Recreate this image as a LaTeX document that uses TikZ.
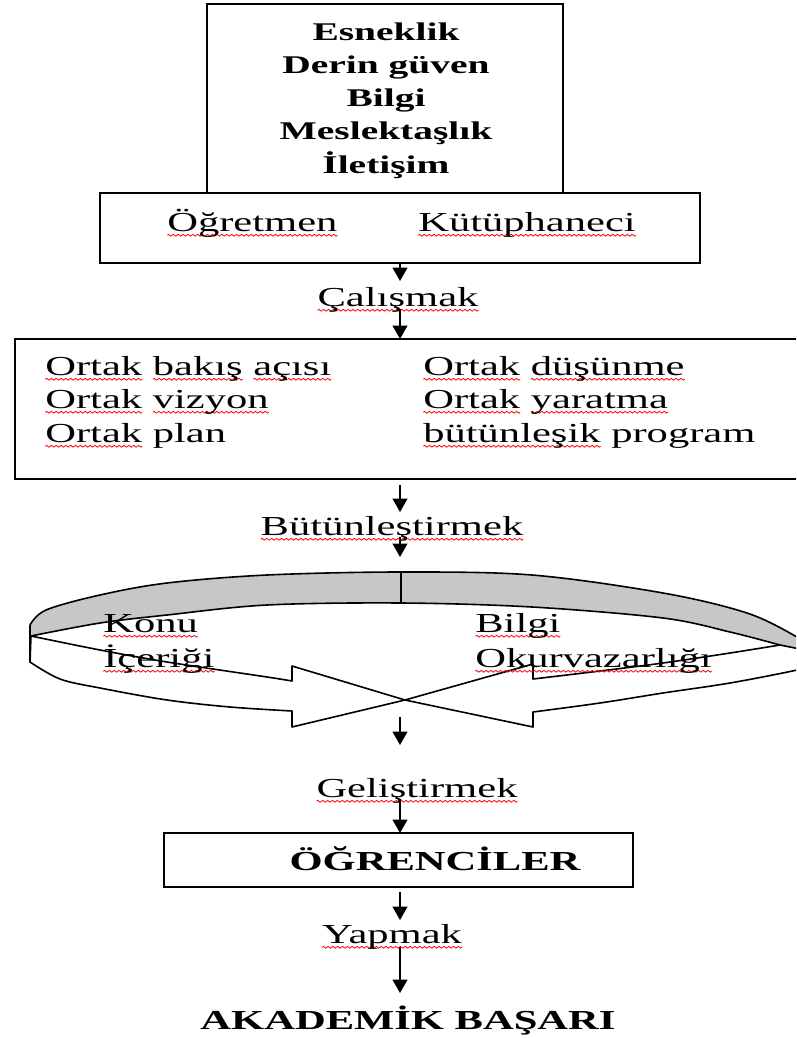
\documentclass[tikz,border=0pt]{standalone}
\usepackage{fontspec}
\setmainfont{Liberation Serif}[FakeStretch=1.55]
\usetikzlibrary{arrows.meta,fit}
\newsavebox\wavebox
\newcommand\sq[1]{\setbox0\hbox{#1}\rlap{\lower4.2pt\hbox to\wd0{\xleaders\copy\wavebox\hfill}}\box0\relax}
\begin{document}
\sbox\wavebox{\begin{pgfpicture}%
  \pgfpathrectangle{\pgfpoint{0pt}{-1pt}}{\pgfpoint{3.6pt}{2pt}}\pgfusepath{use as bounding box}%
  \pgfsetlinewidth{0.6pt}\pgfsetstrokecolor{red}%
  \pgfpathmoveto{\pgfpoint{0pt}{0pt}}%
  \pgfpathcurveto{\pgfpoint{0.6pt}{0.9pt}}{\pgfpoint{1.2pt}{0.9pt}}{\pgfpoint{1.8pt}{0pt}}%
  \pgfpathcurveto{\pgfpoint{2.4pt}{-0.9pt}}{\pgfpoint{3pt}{-0.9pt}}{\pgfpoint{3.6pt}{0pt}}%
  \pgfusepath{stroke}%
\end{pgfpicture}}%
\begin{tikzpicture}[x=0.75pt,y=-0.75pt,
  box/.style={draw,line width=1.5pt,inner sep=0pt,outer sep=0pt},
  arr/.style={line width=1.3pt,-{Triangle[length=10pt,width=11pt]}},
  txt/.style={inner sep=0pt,font=\fontsize{20.6}{24}\selectfont},
  btxt/.style={inner sep=0pt,font=\fontsize{19.1}{24}\selectfont\bfseries},
  bigtxt/.style={inner sep=0pt,font=\fontsize{20.6}{24}\selectfont\bfseries},
  ring/.style={line width=1.2pt,line join=round}]
\useasboundingbox (0,0) rectangle (796,1038);
\clip (0,0) rectangle (796,1038);

% ---- boxes
\coordinate (b1a) at (207,4);   \coordinate (b1b) at (563,193);
\coordinate (b2a) at (100,193); \coordinate (b2b) at (700,263);
\coordinate (b3a) at (15,339);  \coordinate (b3b) at (800,479);
\coordinate (b4a) at (164,833); \coordinate (b4b) at (633,887);
\node[box,fit=(b1a)(b1b)] (top) {};
\node[box,fit=(b2a)(b2b)] (roles) {};
\node[box,fit=(b3a)(b3b)] (common) {};
\node[box,fit=(b4a)(b4b)] (students) {};

% ---- top box text
\node[btxt,anchor=base] (t1) at (386,41)  {Esneklik};
\node[btxt,anchor=base] (t2) at (386,74)  {Derin güven};
\node[btxt,anchor=base] (t3) at (386,107) {Bilgi};
\node[btxt,anchor=base] (t4) at (386,140) {Meslektaşlık};
\node[btxt,anchor=base] (t5) at (386,174) {İletişim};

% ---- roles
\node[txt,anchor=base west] (ogr) at (167,231) {\sq{Öğretmen}};
\node[txt,anchor=base west] (kut) at (418,231) {\sq{Kütüphaneci}};

% ---- verbs
\node[txt,anchor=base] (calis) at (398,306) {\sq{Çalışmak}};
\node[txt,anchor=base] (butun) at (392,535) {\sq{Bütünleştirmek}};
\node[txt,anchor=base] (gelis) at (417,797) {\sq{Geliştirmek}};
\node[txt,anchor=base] (yap) at (392,943) {\sq{Yapmak}};

% ---- common box
\node[txt,anchor=base west] (c1) at (45,375) {\sq{Ortak} \sq{bakış} \sq{açısı}};
\node[txt,anchor=base west] (c2) at (45,408) {\sq{Ortak} \sq{vizyon}};
\node[txt,anchor=base west] (c3) at (45,442) {\sq{Ortak} plan};
\node[txt,anchor=base west] (c4) at (423,375) {\sq{Ortak} \sq{düşünme}};
\node[txt,anchor=base west] (c5) at (423,408) {\sq{Ortak} \sq{yaratma}};
\node[txt,anchor=base west] (c6) at (423,442) {\sq{bütünleşik} program};

% ---- ring (two curved arrows)
\fill[black!22] plot[smooth,tension=0.55] coordinates {(30,625)(46,610)(100,595)(167,583)(267,575)(401,572)(532,575)(663,593)(747,613)(797,637)(815,650)}
  -- (780,645)
  -- plot[smooth,tension=0.55] coordinates {(780,645)(730,632)(663,618)(532,607)(401,603)(267,605)(167,615)(100,623)(31,636)} -- cycle;
\draw[ring] plot[smooth,tension=0.55] coordinates {(30,625)(46,610)(100,595)(167,583)(267,575)(401,572)(532,575)(663,593)(747,613)(797,637)(815,650)};
\draw[ring] plot[smooth,tension=0.55] coordinates {(780,645)(730,632)(663,618)(532,607)(401,603)(267,605)(167,615)(100,623)(31,636)};
% left arrow
\filldraw[ring,fill=white] (31,636) -- (30,662)
  -- plot[smooth,tension=0.55] coordinates {(30,662)(60,679)(100,688)(167,700)(230,707)(292,711)}
  -- (292,727) -- (405,700) -- (292,666) -- (292,681)
  -- plot[smooth,tension=0.55] coordinates {(292,681)(267,677)(167,662)(100,650)(31,636)} -- cycle;
% right arrow
\filldraw[ring,fill=white] (780,645) -- (815,652) -- (815,664)
  -- plot[smooth,tension=0.55] coordinates {(815,664)(797,670)(730,683)(663,693)(600,703)(533,712)}
  -- (533,727) -- (405,700) -- (533,664) -- (533,679)
  -- plot[smooth,tension=0.55] coordinates {(533,679)(600,671)(663,663)(730,653)(780,645)} -- cycle;
\draw[ring] (30,625) -- (30,662);
\draw[ring] (401,572) -- (401,603);

\node[txt,anchor=base west] (konu) at (103,632) {\sq{Konu}};
\node[txt,anchor=base west] (icer) at (103,667) {\sq{İçeriği}};
\node[txt,anchor=base west] (bilgi) at (475,632) {\sq{Bilgi}};
\node[txt,anchor=base west] (okur) at (475,667) {\sq{Okurvazarlığı}};

% ---- final texts
\node[bigtxt,anchor=base] (ogrenci) at (435,870) {ÖĞRENCİLER};
\node[bigtxt,anchor=base] (basari) at (408,1029) {AKADEMİK BAŞARI};

% ---- connectors
\coordinate (a1e) at (400,281);
\draw[arr] (roles.south) -- (a1e);
\coordinate (a2s) at (400,309);
\draw[arr] (a2s) -- (a2s |- common.north);
\coordinate (a3s) at (400,485); \coordinate (a3e) at (400,512);
\draw[arr] (a3s) -- (a3e);
\coordinate (a4s) at (400,537); \coordinate (a4e) at (400,557);
\draw[arr] (a4s) -- (a4e);
\coordinate (a5s) at (400,717); \coordinate (a5e) at (400,745);
\draw[arr] (a5s) -- (a5e);
\coordinate (a6s) at (400,800);
\draw[arr] (a6s) -- (a6s |- students.north);
\coordinate (a7s) at (400,892); \coordinate (a7e) at (400,920);
\draw[arr] (a7s) -- (a7e);
\coordinate (a8s) at (400,947); \coordinate (a8e) at (400,993);
\draw[arr] (a8s) -- (a8e);
\end{tikzpicture}
\end{document}
